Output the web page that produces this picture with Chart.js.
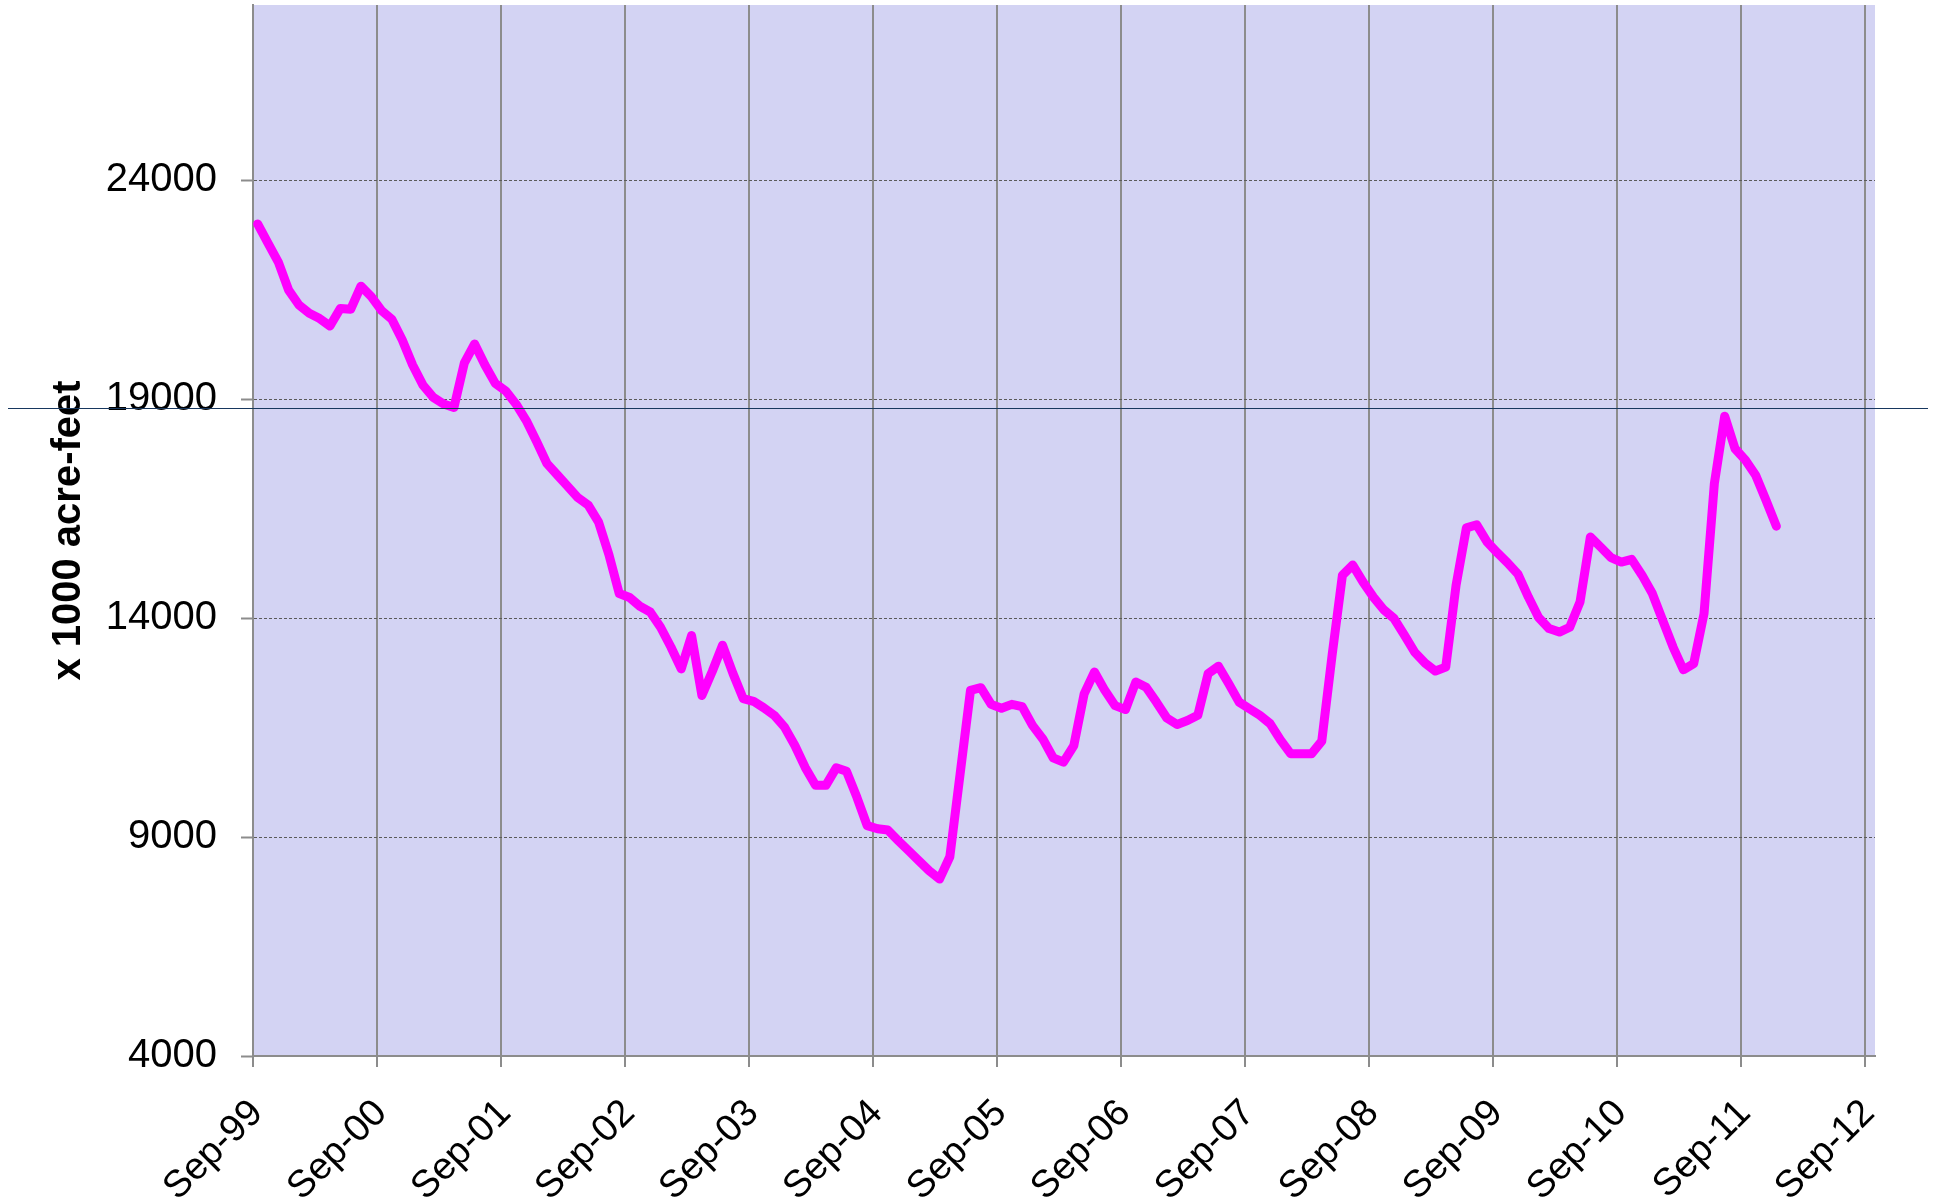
<!DOCTYPE html>
<html>
<head>
<meta charset="utf-8">
<title>Storage</title>
<script src="https://cdn.jsdelivr.net/npm/chart.js@4/dist/chart.umd.min.js"></script>
<style>
  html, body { margin: 0; padding: 0; background: #ffffff; overflow: hidden; }
  canvas { display: block; }
</style>
</head>
<body>
<canvas id="storageChart" width="1937" height="1199"></canvas>
<script>
// x axis: months since Sep-99, one label per September
const yearLabels = ['Sep-99', 'Sep-00', 'Sep-01', 'Sep-02', 'Sep-03', 'Sep-04', 'Sep-05',
  'Sep-06', 'Sep-07', 'Sep-08', 'Sep-09', 'Sep-10', 'Sep-11', 'Sep-12'];
const axisMonths = 157;
// readings are taken around mid-month
const firstReading = 0.45;

const yTicks = [4000, 9000, 14000, 19000, 24000];
const yMin = 4000;
const yMax = 28000;
const referenceLevel = 18800;

// monthly storage, x 1000 acre-feet, starting Sep-99
const storage = [
  23000, 22560, 22130, 21490, 21150, 20960, 20840, 20670, 21070, 21050, 21580, 21340,
  21020, 20820, 20350, 19780, 19320, 19040, 18890, 18810, 19820, 20260, 19780, 19360,
  19190, 18890, 18510, 18030, 17530, 17270, 17010, 16750, 16580, 16190, 15450, 14560,
  14470, 14270, 14140, 13790, 13340, 12840, 13600, 12230, 12780, 13380, 12740, 12160,
  12100, 11950, 11780, 11510, 11090, 10590, 10180, 10180, 10580, 10500, 9910, 9260,
  9190, 9160, 8920, 8690, 8460, 8230, 8040, 8550, 10450, 12350, 12410, 12030,
  11940, 12030, 11980, 11550, 11240, 10810, 10710, 11090, 12270, 12770, 12350, 12000,
  11910, 12540, 12420, 12080, 11720, 11570, 11660, 11780, 12730, 12900, 12500, 12080,
  11930, 11780, 11590, 11220, 10900, 10900, 10900, 11190, 13150, 14980, 15210, 14820,
  14480, 14190, 13990, 13610, 13220, 12970, 12790, 12880, 14750, 16060, 16130, 15740,
  15490, 15260, 15000, 14480, 14010, 13760, 13680, 13790, 14370, 15850, 15620, 15380,
  15280, 15340, 14980, 14560, 13950, 13340, 12820, 12960, 14100, 17070, 18610, 17870,
  17610, 17260, 16690, 16100
];

const points = storage.map((v, i) => ({ x: firstReading + i, y: v }));

Chart.defaults.font.family = '"Liberation Sans", Arial, sans-serif';
Chart.defaults.color = '#000000';

const plotBackground = {
  id: 'plotBackground',
  beforeDraw(chart) {
    const { ctx, chartArea } = chart;
    ctx.save();
    ctx.fillStyle = '#d3d3f3';
    ctx.fillRect(chartArea.left, chartArea.top, chartArea.right - chartArea.left, chartArea.bottom - chartArea.top);
    ctx.restore();
  }
};

// thin reference line drawn across the whole chart
const referenceLine = {
  id: 'referenceLine',
  afterDraw(chart) {
    const { ctx, chartArea } = chart;
    const y = Math.round(chart.scales.y.getPixelForValue(referenceLevel)) + 0.5;
    ctx.save();
    ctx.strokeStyle = '#17375e';
    ctx.lineWidth = 1;
    ctx.beginPath();
    ctx.moveTo(chartArea.left - 245, y);
    ctx.lineTo(chartArea.right + 53, y);
    ctx.stroke();
    ctx.restore();
  }
};

new Chart(document.getElementById('storageChart'), {
  type: 'line',
  data: {
    datasets: [{
      data: points,
      borderColor: '#ff00ff',
      borderWidth: 9,
      borderJoinStyle: 'round',
      borderCapStyle: 'round',
      pointRadius: 0,
      tension: 0,
      fill: false
    }]
  },
  options: {
    responsive: false,
    animation: false,
    layout: { padding: { top: 5, right: 62, bottom: 0, left: 0 } },
    plugins: {
      legend: { display: false },
      tooltip: { enabled: false }
    },
    scales: {
      x: {
        type: 'linear',
        min: 0,
        max: axisMonths,
        afterBuildTicks: (scale) => {
          scale.ticks = yearLabels.map((_, i) => ({ value: i * 12 }));
        },
        afterFit: (scale) => {
          scale.height = 143;
          scale.paddingLeft = 0;
          scale.paddingRight = 0;
        },
        ticks: {
          callback: (value) => yearLabels[Math.round(value / 12)],
          minRotation: 45,
          maxRotation: 45,
          autoSkip: false,
          padding: 24,
          labelOffset: 4,
          font: { size: 38 }
        },
        grid: {
          color: '#8c8c8c',
          lineWidth: 2,
          tickLength: 11
        },
        border: { color: '#8c8c8c', width: 2 }
      },
      y: {
        min: yMin,
        max: yMax,
        afterBuildTicks: (scale) => {
          scale.ticks = yTicks.map((v) => ({ value: v }));
        },
        afterFit: (scale) => {
          scale.width = 253;
          scale.paddingTop = 0;
          scale.paddingBottom = 0;
        },
        ticks: {
          callback: (value) => String(value),
          padding: 24,
          font: { size: 40 }
        },
        grid: {
          color: (ctx) => (ctx.tick && ctx.tick.value === yMin ? 'rgba(0,0,0,0)' : '#5a5a5a'),
          lineWidth: 1,
          tickColor: '#8c8c8c',
          tickWidth: 2,
          tickLength: 12
        },
        border: { color: '#8c8c8c', width: 2, dash: [3, 2] },
        title: {
          display: true,
          text: 'x 1000 acre-feet',
          font: { size: 40, weight: 'bold' },
          padding: { top: 45, bottom: 0 }
        }
      }
    }
  },
  plugins: [plotBackground, referenceLine]
});
</script>
</body>
</html>
